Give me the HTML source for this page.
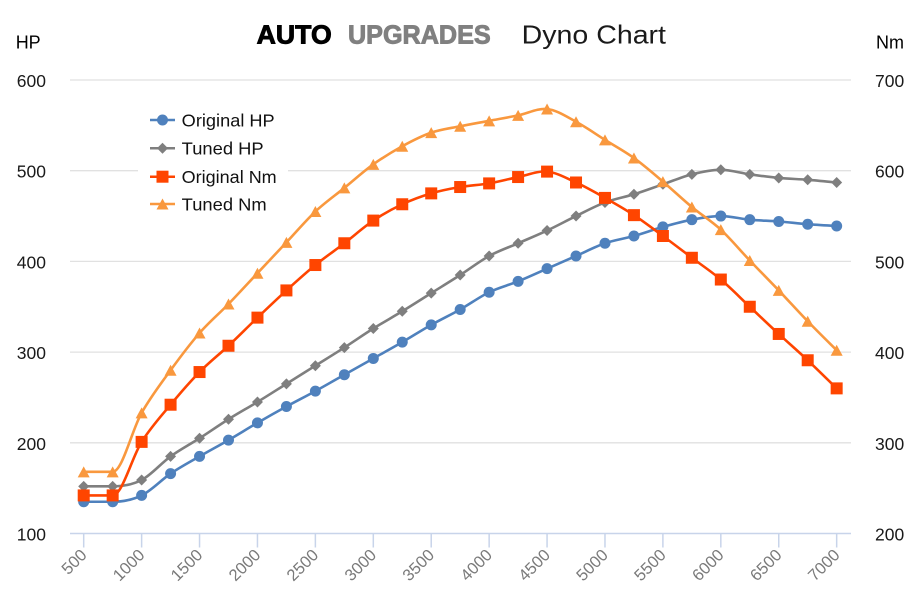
<!DOCTYPE html>
<html>
<head>
<meta charset="utf-8">
<style>
html,body{margin:0;padding:0;background:#fff;}
svg{display:block;}
text{font-family:"Liberation Sans",Arial,sans-serif;}
</style>
</head>
<body>
<svg id="chart" width="922" height="615" viewBox="0 0 922 615" xmlns="http://www.w3.org/2000/svg">
<defs>
  <marker id="mC" markerUnits="userSpaceOnUse" markerWidth="14" markerHeight="14" refX="7" refY="7" overflow="visible">
    <circle cx="7" cy="7" r="5.5" fill="#4f81bd"/>
  </marker>
  <marker id="mD" markerUnits="userSpaceOnUse" markerWidth="14" markerHeight="14" refX="7" refY="7" overflow="visible">
    <polygon points="7,1.5 12.5,7 7,12.5 1.5,7" fill="#7f7f7f"/>
  </marker>
  <marker id="mS" markerUnits="userSpaceOnUse" markerWidth="14" markerHeight="14" refX="7" refY="7" overflow="visible">
    <rect x="1" y="1" width="12" height="12" fill="#ff4500"/>
  </marker>
  <marker id="mT" markerUnits="userSpaceOnUse" markerWidth="14" markerHeight="14" refX="7" refY="7" overflow="visible">
    <polygon points="7,1.5 13,12.5 1,12.5" fill="#f9983e"/>
  </marker>
</defs>
<rect width="922" height="615" fill="#fff"/>

<!-- Title -->
<text x="256.7" y="43.3" font-size="26" font-weight="bold" fill="#000" stroke="#000" stroke-width="0.9" textLength="75" lengthAdjust="spacingAndGlyphs">AUTO</text>
<text x="348" y="43.3" font-size="26" font-weight="bold" fill="#808080" stroke="#808080" stroke-width="0.9" textLength="142.7" lengthAdjust="spacingAndGlyphs">UPGRADES</text>
<text x="521.7" y="43.3" font-size="26" fill="#1a1a1a" textLength="144.3" lengthAdjust="spacingAndGlyphs">Dyno Chart</text>

<!-- Axis titles -->
<text x="15.7" y="48.3" font-size="18" fill="#000">HP</text>
<text x="876" y="48.3" font-size="18" fill="#000">Nm</text>

<!-- Gridlines -->
<g stroke="#e1e1e1" stroke-width="1.3">
  <line x1="70" y1="80" x2="851" y2="80"/>
  <line x1="70" y1="170.7" x2="851" y2="170.7"/>
  <line x1="70" y1="261.4" x2="851" y2="261.4"/>
  <line x1="70" y1="352.1" x2="851" y2="352.1"/>
  <line x1="70" y1="442.8" x2="851" y2="442.8"/>
</g>
<!-- X axis -->
<line x1="70" y1="533.5" x2="851" y2="533.5" stroke="#c8d4ea" stroke-width="1.6"/>
<g stroke="#c8d4ea" stroke-width="1.5">
  <line x1="83.7" y1="533.5" x2="83.7" y2="547.5"/>
  <line x1="141.62" y1="533.5" x2="141.62" y2="547.5"/>
  <line x1="199.54" y1="533.5" x2="199.54" y2="547.5"/>
  <line x1="257.46" y1="533.5" x2="257.46" y2="547.5"/>
  <line x1="315.38" y1="533.5" x2="315.38" y2="547.5"/>
  <line x1="373.3" y1="533.5" x2="373.3" y2="547.5"/>
  <line x1="431.22" y1="533.5" x2="431.22" y2="547.5"/>
  <line x1="489.14" y1="533.5" x2="489.14" y2="547.5"/>
  <line x1="547.06" y1="533.5" x2="547.06" y2="547.5"/>
  <line x1="604.98" y1="533.5" x2="604.98" y2="547.5"/>
  <line x1="662.9" y1="533.5" x2="662.9" y2="547.5"/>
  <line x1="720.82" y1="533.5" x2="720.82" y2="547.5"/>
  <line x1="778.74" y1="533.5" x2="778.74" y2="547.5"/>
  <line x1="836.66" y1="533.5" x2="836.66" y2="547.5"/>
</g>

<!-- Left axis labels -->
<g font-size="17.5" fill="#1a1a1a" text-anchor="end">
  <text x="46" y="87">600</text>
  <text x="46" y="177.7">500</text>
  <text x="46" y="268.4">400</text>
  <text x="46" y="359.1">300</text>
  <text x="46" y="449.8">200</text>
  <text x="46" y="540.5">100</text>
</g>
<!-- Right axis labels -->
<g font-size="17.5" fill="#1a1a1a">
  <text x="875" y="87">700</text>
  <text x="875" y="177.7">600</text>
  <text x="875" y="268.4">500</text>
  <text x="875" y="359.1">400</text>
  <text x="875" y="449.8">300</text>
  <text x="875" y="540.5">200</text>
</g>

<!-- X tick labels -->
<g font-size="16.5" fill="#7a7a7a" text-anchor="end">
  <text transform="translate(87.7,556) rotate(-45)">500</text>
  <text transform="translate(145.6,556) rotate(-45)">1000</text>
  <text transform="translate(203.5,556) rotate(-45)">1500</text>
  <text transform="translate(261.5,556) rotate(-45)">2000</text>
  <text transform="translate(319.4,556) rotate(-45)">2500</text>
  <text transform="translate(377.3,556) rotate(-45)">3000</text>
  <text transform="translate(435.2,556) rotate(-45)">3500</text>
  <text transform="translate(493.1,556) rotate(-45)">4000</text>
  <text transform="translate(551.1,556) rotate(-45)">4500</text>
  <text transform="translate(609,556) rotate(-45)">5000</text>
  <text transform="translate(666.9,556) rotate(-45)">5500</text>
  <text transform="translate(724.8,556) rotate(-45)">6000</text>
  <text transform="translate(782.7,556) rotate(-45)">6500</text>
  <text transform="translate(840.7,556) rotate(-45)">7000</text>
</g>

<!-- Legend -->
<rect x="138" y="104" width="150" height="114" fill="#fff"/>
<g stroke-width="2.5">
  <line x1="150" y1="120" x2="175" y2="120" stroke="#4f81bd"/>
  <line x1="150" y1="148.3" x2="175" y2="148.3" stroke="#7f7f7f"/>
  <line x1="150" y1="176.7" x2="175" y2="176.7" stroke="#ff4500"/>
  <line x1="150" y1="204" x2="175" y2="204" stroke="#f9983e"/>
</g>
<circle cx="162.5" cy="120" r="5.5" fill="#4f81bd"/>
<polygon points="162.5,142.8 168,148.3 162.5,153.8 157,148.3" fill="#7f7f7f"/>
<rect x="156.5" y="170.7" width="12" height="12" fill="#ff4500"/>
<polygon points="162.5,198.5 168.5,209.5 156.5,209.5" fill="#f9983e"/>
<g font-size="17.5" fill="#111">
  <text x="181.7" y="126.3" textLength="93" lengthAdjust="spacingAndGlyphs">Original HP</text>
  <text x="181.7" y="154.6" textLength="82" lengthAdjust="spacingAndGlyphs">Tuned HP</text>
  <text x="181.7" y="183" textLength="95" lengthAdjust="spacingAndGlyphs">Original Nm</text>
  <text x="181.7" y="210.3" textLength="85" lengthAdjust="spacingAndGlyphs">Tuned Nm</text>
</g>

<!-- Series -->
<g fill="none" stroke-width="2.6" stroke-linejoin="round" stroke-linecap="round">
  <path class="ser" stroke="#4f81bd" marker-start="url(#mC)" marker-mid="url(#mC)" marker-end="url(#mC)"
   d="M83.7,501.76 L112.66,501.76 L141.62,495.41 L170.58,473.64 L199.54,456.41 L228.5,440.08 L257.46,422.85 L286.42,406.52 L315.38,391.1 L344.34,374.78 L373.3,358.45 L402.26,342.12 L431.22,324.89 L460.18,309.47 L489.14,292.24 L518.1,281.35 L547.06,268.66 L576.02,255.96 L604.98,243.26 L633.94,236 L662.9,226.93 L691.86,219.68 L720.82,216.05 L749.78,219.68 L778.74,221.49 L807.7,224.21 L836.66,226.03"/>
  <path class="ser" stroke="#7f7f7f" marker-start="url(#mD)" marker-mid="url(#mD)" marker-end="url(#mD)"
   d="M83.7,486.34 L112.66,486.34 L141.62,479.99 L170.58,456.41 L199.54,438.27 L228.5,419.22 L257.46,401.99 L286.42,383.85 L315.38,365.71 L344.34,347.57 L373.3,328.52 L402.26,311.29 L431.22,293.15 L460.18,275.01 L489.14,255.96 L518.1,243.26 L547.06,230.56 L576.02,216.05 L604.98,202.45 L633.94,194.28 L662.9,184.31 L691.86,174.33 L720.82,169.79 L749.78,174.33 L778.74,177.96 L807.7,179.77 L836.66,182.49"/>
  <path class="ser" stroke="#ff4500" marker-start="url(#mS)" marker-mid="url(#mS)" marker-end="url(#mS)"
   d="M83.7,495.41 L112.66,495.41 L141.62,441.89 L170.58,404.71 L199.54,372.05 L228.5,345.75 L257.46,317.63 L286.42,290.42 L315.38,265.03 L344.34,243.26 L373.3,220.59 L402.26,204.26 L431.22,193.38 L460.18,187.03 L489.14,183.4 L518.1,177.05 L547.06,171.61 L576.02,182.49 L604.98,197.91 L633.94,215.14 L662.9,236 L691.86,257.77 L720.82,279.54 L749.78,306.75 L778.74,333.96 L807.7,360.26 L836.66,388.38"/>
  <path class="ser" stroke="#f9983e" marker-start="url(#mT)" marker-mid="url(#mT)" marker-end="url(#mT)"
   d="M83.7,471.82 L112.66,471.82 L141.62,412.87 L170.58,370.24 L199.54,333.05 L228.5,304.03 L257.46,273.19 L286.42,242.35 L315.38,211.52 L344.34,187.93 L373.3,164.35 L402.26,146.21 L431.22,132.61 L460.18,126.26 L489.14,120.82 L518.1,115.37 L547.06,109.02 L576.02,121.72 L604.98,139.86 L633.94,158 L662.9,181.58 L691.86,206.98 L720.82,229.66 L749.78,260.49 L778.74,290.42 L807.7,321.26 L836.66,350.29"/>
</g>
</svg>
<script>
(function(){
  var paths=document.querySelectorAll('path.ser');
  for(var k=0;k<paths.length;k++){
    var p=paths[k];
    var d=p.getAttribute('d');
    var nums=d.replace(/[ML]/g,' ').trim().split(/[\s,]+/).map(parseFloat);
    var pts=[];
    for(var i=0;i<nums.length;i+=2){pts.push([nums[i],nums[i+1]]);}
    var n=pts.length, t=1/6;
    var s='M'+pts[0][0]+','+pts[0][1];
    for(var i=0;i<n-1;i++){
      var p0=pts[i>0?i-1:i], p1=pts[i], p2=pts[i+1], p3=pts[i+2<n?i+2:i+1];
      var c1x=p1[0]+(p2[0]-p0[0])*t, c1y=p1[1]+(p2[1]-p0[1])*t;
      var c2x=p2[0]-(p3[0]-p1[0])*t, c2y=p2[1]-(p3[1]-p1[1])*t;
      if(Math.abs(p1[1]-p2[1])<0.01){c1y=p1[1];c2y=p2[1];}
      if(i>0 && Math.abs(p0[1]-p1[1])<0.01){c1y=p1[1];}
      s+=' C'+c1x.toFixed(2)+','+c1y.toFixed(2)+' '+c2x.toFixed(2)+','+c2y.toFixed(2)+' '+p2[0]+','+p2[1];
    }
    p.setAttribute('d',s);
  }
})();
</script>
</body>
</html>
